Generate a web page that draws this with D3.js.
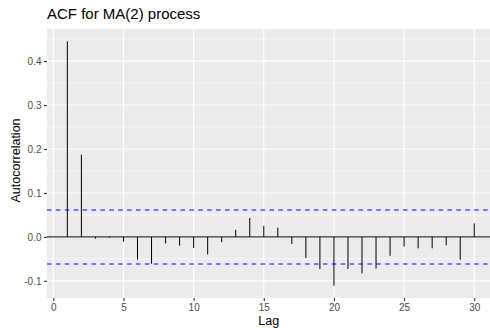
<!DOCTYPE html>
<html>
<head>
<meta charset="utf-8">
<script src="https://cdn.jsdelivr.net/npm/d3@7"></script>
<style>
  body { margin: 0; background: #fff; }
  text { font-family: "Liberation Sans", Arial, sans-serif; }
</style>
</head>
<body>
<div id="chart"></div>
<script>
// data
const lags = d3.range(1, 31);
const acfValues = [0.445, 0.187, -0.004, -0.002, -0.011, -0.052, -0.061, -0.015, -0.020, -0.025,
  -0.040, -0.012, 0.016, 0.043, 0.025, 0.021, -0.016, -0.048, -0.073, -0.111,
  -0.073, -0.083, -0.072, -0.043, -0.022, -0.026, -0.026, -0.019, -0.052, 0.031];
const ciLimit = 0.062;
const xTicks = [0, 5, 10, 15, 20, 25, 30];
const yTicks = [-0.1, 0.0, 0.1, 0.2, 0.3, 0.4];
const yTickLabels = ["-0.1", "0.0", "0.1", "0.2", "0.3", "0.4"];
const yMinor = [-0.05, 0.05, 0.15, 0.25, 0.35, 0.45];

let w = 490, h = 328;
let padLeft = 47, padTop = 29, padRight = 490, padBottom = 298;

let svg = d3.select("#chart").append("svg")
  .attr("width", w)
  .attr("height", h);

let xScale = d3.scaleLinear()
  .domain([-0.45, 31.45])
  .range([padLeft, 494.6]);

let yScale = d3.scaleLinear()
  .domain([-0.139, 0.473])
  .range([padBottom, padTop]);

// panel
svg.append("rect")
  .attr("x", padLeft).attr("y", padTop)
  .attr("width", padRight - padLeft).attr("height", padBottom - padTop)
  .attr("fill", "#EBEBEB");

// grid
svg.selectAll(".yminor").data(yMinor).enter().append("line")
  .attr("x1", padLeft).attr("x2", padRight)
  .attr("y1", d => yScale(d)).attr("y2", d => yScale(d))
  .attr("stroke", "#fff").attr("stroke-width", 0.55);

svg.selectAll(".ymajor").data(yTicks).enter().append("line")
  .attr("x1", padLeft).attr("x2", padRight)
  .attr("y1", d => yScale(d)).attr("y2", d => yScale(d))
  .attr("stroke", "#fff").attr("stroke-width", 1.1);

svg.selectAll(".xmajor").data(xTicks).enter().append("line")
  .attr("x1", d => xScale(d)).attr("x2", d => xScale(d))
  .attr("y1", padTop).attr("y2", padBottom)
  .attr("stroke", "#fff").attr("stroke-width", 1.1);

// zero line
svg.append("line")
  .attr("x1", padLeft).attr("x2", padRight)
  .attr("y1", yScale(0)).attr("y2", yScale(0))
  .attr("stroke", "#000").attr("stroke-width", 1);

// acf segments
svg.selectAll(".bar").data(lags).enter().append("line")
  .attr("x1", d => xScale(d)).attr("x2", d => xScale(d))
  .attr("y1", yScale(0))
  .attr("y2", (d, i) => yScale(acfValues[i]))
  .attr("stroke", "#000").attr("stroke-width", 1);

// confidence bounds
[ciLimit, -ciLimit].forEach(function(v) {
  svg.append("line")
    .attr("x1", padLeft).attr("x2", padRight)
    .attr("y1", Math.round(yScale(v))).attr("y2", Math.round(yScale(v)))
    .attr("stroke", "#0000FF").attr("stroke-width", 1.1)
    .attr("stroke-dasharray", "4.5,4.4");
});

// axes
let xAxis = d3.axisBottom(xScale).tickValues(xTicks).tickSize(3).tickPadding(2.5)
  .tickFormat(d3.format("d"));
let yAxis = d3.axisLeft(yScale).tickValues(yTicks).tickSize(3).tickPadding(2.5)
  .tickFormat((d, i) => yTickLabels[i]);

let gx = svg.append("g")
  .attr("transform", "translate(0," + padBottom + ")")
  .call(xAxis);
let gy = svg.append("g")
  .attr("transform", "translate(" + padLeft + ",0)")
  .call(yAxis);

[gx, gy].forEach(function(g) {
  g.select(".domain").remove();
  g.selectAll("line").attr("stroke", "#333333").attr("stroke-width", 1.1);
  g.selectAll("text").attr("fill", "#4D4D4D").attr("font-size", "10px")
    .attr("font-family", "Liberation Sans, Arial, sans-serif");
});

// titles
svg.append("text")
  .attr("x", padLeft).attr("y", 18.5)
  .attr("font-size", "15px")
  .attr("fill", "#000")
  .text("ACF for MA(2) process");

svg.append("text")
  .attr("x", xScale(15.5) - 2).attr("y", 325)
  .attr("text-anchor", "middle")
  .attr("font-size", "12.5px")
  .text("Lag");

svg.append("text")
  .attr("transform", "translate(19.5," + ((padTop + padBottom) / 2 - 3) + ") rotate(-90)")
  .attr("text-anchor", "middle")
  .attr("font-size", "12.5px")
  .text("Autocorrelation");
</script>
</body>
</html>
